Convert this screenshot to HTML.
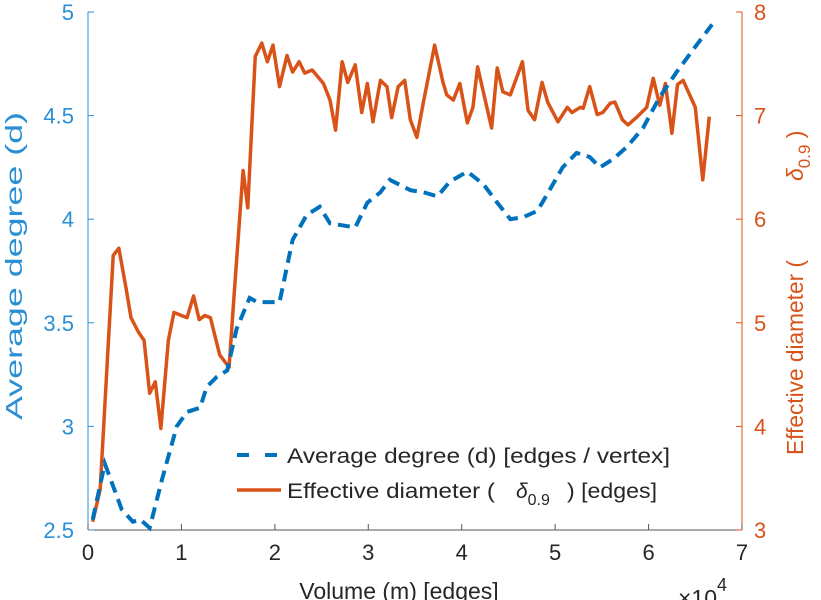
<!DOCTYPE html>
<html><head><meta charset="utf-8"><style>
body{margin:0;background:#fff}
svg{display:block;font-family:"Liberation Sans",sans-serif}
</style></head><body>
<svg id="chart" width="821" height="600"></svg>
<script>
const xTicks=[0,1,2,3,4,5,6,7];
const leftTicks=[2.5,3,3.5,4,4.5,5];
const rightTicks=[3,4,5,6,7,8];
const degX=[0.05,0.18,0.36,0.48,0.56,0.66,0.79,0.95,1.06,1.20,1.27,1.38,1.49,1.59,1.73,1.81,2.05,2.19,2.34,2.48,2.59,2.73,2.86,2.99,3.13,3.23,3.45,3.59,3.74,3.87,4.06,4.23,4.38,4.52,4.66,4.81,4.94,5.08,5.23,5.37,5.48,5.62,5.77,5.94,6.12,6.30,6.48,6.58,6.68];
const degY=[2.55,2.82,2.60,2.54,2.55,2.51,2.74,3.00,3.07,3.09,3.19,3.24,3.27,3.47,3.62,3.60,3.60,3.90,4.02,4.06,3.98,3.97,3.96,4.08,4.13,4.19,4.14,4.13,4.11,4.18,4.23,4.17,4.08,4.00,4.01,4.04,4.14,4.25,4.32,4.30,4.25,4.29,4.35,4.44,4.59,4.71,4.82,4.88,4.94];
const diaX=[0.05,0.13,0.27,0.33,0.41,0.46,0.54,0.60,0.66,0.72,0.78,0.86,0.92,1.00,1.06,1.13,1.19,1.25,1.31,1.41,1.51,1.56,1.66,1.71,1.79,1.86,1.92,1.98,2.05,2.13,2.19,2.26,2.32,2.40,2.52,2.59,2.65,2.72,2.78,2.86,2.93,2.99,3.05,3.13,3.20,3.25,3.32,3.39,3.45,3.52,3.59,3.71,3.80,3.84,3.91,3.98,4.06,4.12,4.17,4.32,4.38,4.44,4.52,4.65,4.71,4.78,4.86,4.92,5.03,5.13,5.18,5.27,5.30,5.37,5.45,5.51,5.59,5.64,5.72,5.78,5.88,5.98,6.05,6.12,6.18,6.25,6.31,6.37,6.50,6.58,6.65];
const diaY=[3.08,3.39,5.65,5.72,5.32,5.05,4.91,4.83,4.32,4.43,3.98,4.83,5.10,5.07,5.05,5.26,5.03,5.07,5.05,4.69,4.57,5.22,6.47,6.11,7.57,7.70,7.52,7.68,7.28,7.58,7.42,7.52,7.41,7.44,7.31,7.15,6.86,7.52,7.32,7.49,7.03,7.31,6.94,7.34,7.28,6.98,7.28,7.34,6.96,6.79,7.13,7.68,7.32,7.20,7.15,7.31,6.93,7.08,7.47,6.88,7.46,7.23,7.20,7.52,7.05,6.96,7.32,7.13,6.94,7.08,7.03,7.08,7.07,7.28,7.01,7.03,7.12,7.13,6.96,6.91,6.99,7.08,7.36,7.10,7.31,6.83,7.30,7.34,7.08,6.38,6.99];

const L=88,R=742,T=12,B=530;
const xs=v=>L+(v-0)/7*(R-L);
const yl=v=>B-(v-2.5)/2.5*(B-T);
const yr=v=>B-(v-3)/5*(B-T);
const svg=document.getElementById('chart');
const NS='http://www.w3.org/2000/svg';
function mk(tag,attrs,parent){const e=document.createElementNS(NS,tag);for(const k in attrs)e.setAttribute(k,attrs[k]);(parent||svg).appendChild(e);return e;}
const BLUE='#0072BD',ORANGE='#D95319',BLUEAX='#2a8fd4';

let e=mk('line',{x1:L,y1:B,x2:R,y2:B,stroke:'#555','stroke-width':1});


e=mk('line',{x1:L,y1:T,x2:L,y2:B,stroke:BLUEAX,'stroke-width':1});


e=mk('line',{x1:R,y1:T,x2:R,y2:B,stroke:ORANGE,'stroke-width':1});



xTicks.forEach(v=>{
  const t=mk('line',{x1:xs(v),y1:B,x2:xs(v),y2:B-6,stroke:'#555'});
  
  
  const l=mk('text',{x:xs(v),y:B+30,'text-anchor':'middle','font-size':22,fill:'#262626'});
  l.textContent=v;
  
  
});
leftTicks.forEach(v=>{
  const t=mk('line',{x1:L,y1:yl(v),x2:L+6,y2:yl(v),stroke:BLUEAX});
  
  
  const l=mk('text',{x:L-14,y:yl(v)+8,'text-anchor':'end','font-size':22,fill:BLUEAX});
  l.textContent=v;
  
  
});
rightTicks.forEach(v=>{
  const t=mk('line',{x1:R,y1:yr(v),x2:R-6,y2:yr(v),stroke:ORANGE});
  
  
  const l=mk('text',{x:R+12,y:yr(v)+8,'text-anchor':'start','font-size':22,fill:ORANGE});
  l.textContent=v;
  
  
});

let p=mk('polyline',{points:diaX.map((x,i)=>xs(x)+','+yr(diaY[i])).join(' '),fill:'none',stroke:ORANGE,'stroke-width':3.5,'stroke-linejoin':'round'});


p=mk('polyline',{points:degX.map((x,i)=>xs(x)+','+yl(degY[i])).join(' '),fill:'none',stroke:BLUE,'stroke-width':4,'stroke-dasharray':'12,7'});


</script>
<svg width="821" height="600" style="position:absolute;left:0;top:0">
<g>
<rect x="230" y="436" width="450" height="74" fill="#fff"/>
<line x1="237" y1="455" x2="281" y2="455" stroke="#0072BD" stroke-width="4" stroke-dasharray="12,16"/>
<text x="287" y="463" font-size="21" fill="#262626" textLength="383" lengthAdjust="spacingAndGlyphs">Average degree (d) [edges / vertex]</text>
<line x1="237" y1="490" x2="281" y2="490" stroke="#D95319" stroke-width="3.5"/>
<text x="287" y="498" font-size="21" fill="#262626" textLength="208" lengthAdjust="spacingAndGlyphs">Effective diameter (</text>
<text x="516" y="498" font-size="21" font-style="italic" fill="#262626">δ<tspan font-size="16" font-style="normal" dy="7">0.9</tspan></text>
<text x="567" y="498" font-size="21" fill="#262626" textLength="90" lengthAdjust="spacingAndGlyphs">) [edges]</text>
</g>
<text transform="translate(22,420) rotate(-90)" font-size="23" fill="#2a8fd4" textLength="308" lengthAdjust="spacingAndGlyphs">Average degree (d)</text>
<g transform="translate(803,0) rotate(-90)">
<text x="-455" y="0" font-size="23" fill="#D95319" textLength="195" lengthAdjust="spacingAndGlyphs">Effective diameter (</text>
<text x="-181" y="0" font-size="23" font-style="italic" fill="#D95319">δ<tspan font-size="17" font-style="normal" dy="7">0.9</tspan><tspan dy="-7" font-style="normal" font-size="23"> )</tspan></text>
</g>
<text x="399" y="599" text-anchor="middle" font-size="23" fill="#262626">Volume (m) [edges]</text>
<text x="678" y="606" font-size="23" fill="#262626">×10<tspan font-size="18" dy="-15">4</tspan></text>
</svg>
</body></html>
